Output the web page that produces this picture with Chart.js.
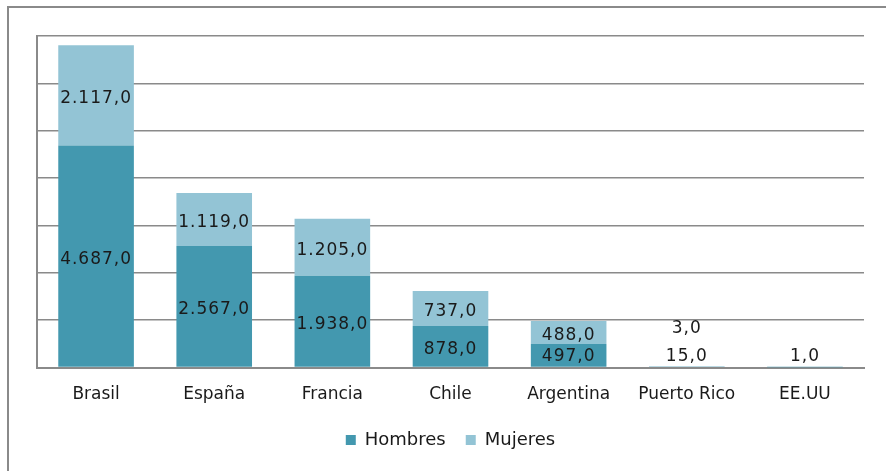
<!DOCTYPE html>
<html>
<head>
<meta charset="utf-8">
<script src="https://cdn.jsdelivr.net/npm/chart.js@4"></script>
<style>
html,body{margin:0;padding:0;background:#fff;overflow:hidden;width:886px;height:471px;}
#frame{position:absolute;left:7px;top:6px;width:2000px;height:2000px;border:2px solid #8a8a8a;box-sizing:border-box;}
#wrap{position:absolute;left:0;top:0;width:886px;height:471px;}
</style>
</head>
<body>
<div id="frame"></div>
<div id="wrap"><canvas id="c" width="886" height="471"></canvas></div>
<script>
const categories = ["Brasil", "España", "Francia", "Chile", "Argentina", "Puerto Rico", "EE.UU"];
const hombres = [4687, 2567, 1938, 878, 497, 15, 1];
const mujeres = [2117, 1119, 1205, 737, 488, 3, null];
const seriesNames = ["Hombres", "Mujeres"];

const FONT = "'DejaVu Sans', Verdana, sans-serif";

function fmt(v) {
  const parts = Math.abs(v).toFixed(1).split(".");
  parts[0] = parts[0].replace(/\B(?=(\d{3})+(?!\d))/g, ".");
  return parts[0] + "," + parts[1];
}

const labelPlugin = {
  id: "segLabels",
  afterDatasetsDraw(chart) {
    const ctx = chart.ctx;
    ctx.save();
    ctx.font = "17px " + FONT;
    try { ctx.letterSpacing = "1px"; } catch (e) {}
    ctx.fillStyle = "#1a1a1a";
    ctx.textAlign = "center";
    ctx.textBaseline = "middle";
    const dy = 3;
    const m0 = chart.getDatasetMeta(0);
    const m1 = chart.getDatasetMeta(1);
    const firstY = [];
    m0.data.forEach((el, i) => {
      const v = chart.data.datasets[0].data[i];
      if (v == null) return;
      const center = (el.y + el.base) / 2;
      const y = Math.min(center, el.base - 13);
      firstY[i] = y;
      ctx.fillText(fmt(v), el.x, y + dy);
    });
    m1.data.forEach((el, i) => {
      const v = chart.data.datasets[1].data[i];
      if (v == null) return;
      const h = Math.abs(el.base - el.y);
      let y = (el.y + el.base) / 2;
      if (h < 18) y = firstY[i] - 28;
      ctx.fillText(fmt(v), el.x, y + dy);
    });
    ctx.restore();
  }
};

new Chart(document.getElementById("c"), {
  type: "bar",
  data: {
    labels: categories,
    datasets: [
      { label: seriesNames[0], data: hombres, backgroundColor: "#4398AF", stack: "s" },
      { label: seriesNames[1], data: mujeres, backgroundColor: "#93C4D5", stack: "s" }
    ]
  },
  options: {
    responsive: false,
    animation: false,
    events: [],
    layout: { padding: { left: 37, right: 22, top: 36, bottom: 12 } },
    datasets: { bar: { categoryPercentage: 1.0, barPercentage: 0.64 } },
    scales: {
      x: {
        stacked: true,
        grid: { display: false, drawTicks: false },
        border: { display: true, color: "#8a8a8a", width: 2 },
        ticks: { color: "#1a1a1a", font: { family: FONT, size: 17 }, padding: 17, maxRotation: 0, autoSkip: false },
        afterFit(scale) { scale.height -= 11; }
      },
      y: {
        stacked: true,
        min: 0, max: 7000,
        ticks: { display: false, stepSize: 1000 },
        grid: { color: "#8a8a8a", lineWidth: 1.5, drawTicks: false },
        border: { display: true, color: "#8a8a8a", width: 2 }
      }
    },
    plugins: {
      tooltip: { enabled: false },
      legend: {
        position: "bottom",
        labels: {
          color: "#1a1a1a",
          font: { family: FONT, size: 18 },
          boxWidth: 10, boxHeight: 10,
          padding: 20
        }
      }
    }
  },
  plugins: [labelPlugin]
});
</script>
</body>
</html>
